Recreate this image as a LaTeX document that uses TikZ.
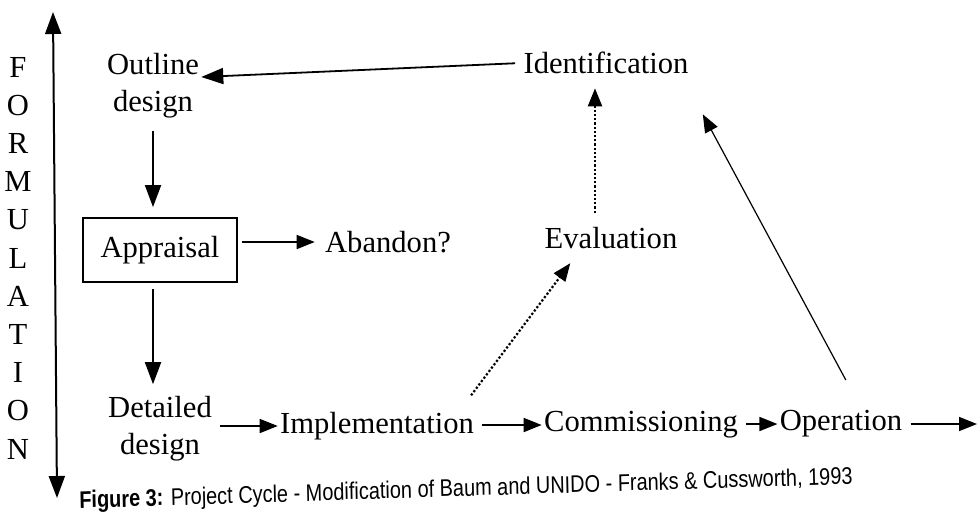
\documentclass[tikz,border=0pt]{standalone}
\usepackage{fontspec}
\setmainfont{Liberation Serif}
\newfontfamily\capfont{Liberation Sans}
\usetikzlibrary{arrows.meta}

\begin{document}
\begin{tikzpicture}[x=0.5pt,y=-0.5pt,
  stage/.style={font=\fontsize{15.3}{18.5}\selectfont,inner sep=1pt,align=center},
  arr/.style={line width=0.8pt,-{Triangle[length=9pt,width=7pt]}},
  bigarr/.style={line width=0.9pt,-{Triangle[length=11pt,width=8pt]}},
  dotarr/.style={line width=1.1pt,densely dotted,-{Triangle[length=9pt,width=7pt]}}]
  \useasboundingbox (0,0) rectangle (977,515);

  % the formulation axis
  \foreach \l [count=\i] in {F,O,R,M,U,L,A,T,I,O,N}
    \node[stage] (f\i) at (18,{67+38.2*(\i-1)}) {\l};
  \coordinate (axtop) at (53,12);
  \coordinate (axbot) at (57,498);
  \draw[line width=1pt,{Triangle[length=11pt,width=8pt]}-{Triangle[length=11pt,width=8pt]}] (axtop) -- (axbot);

  \node[stage] (outline) at (153,86) {Outline\\design};
  \node[stage,draw,line width=0.9pt,minimum width=77pt,minimum height=32pt] (appraisal) at (160,250) {Appraisal};
  \node[stage] (abandon) at (388,242) {Abandon?};
  \node[stage] (ident) at (606,63) {Identification};
  \node[stage] (eval) at (611,238) {Evaluation};
  \node[stage] (detailed) at (160,429) {Detailed\\design};
  \node[stage] (impl) at (377,426) {Implementation};
  \node[stage] (commis) at (641,425) {Commissioning};
  \node[stage] (oper) at (841,424) {Operation};
  \coordinate (out) at (977,424);

  \node[font=\capfont\fontsize{12}{14}\selectfont,xscale=0.83,rotate=1.5] (caption) at (466,490)
    {\textbf{Figure 3:} Project Cycle - Modification of Baum and UNIDO - Franks \& Cussworth, 1993};

  % cycle
  \draw[bigarr,shorten <=3pt] (ident.west) -- ([yshift=4.5pt]outline.east);
  \draw[bigarr,shorten <=5pt,shorten >=5pt] (outline.south) -- (outline.south |- appraisal.north);
  \draw[arr,shorten <=2pt,shorten >=4pt] (appraisal.east |- abandon.west) -- (abandon.west);
  \draw[bigarr,shorten <=3pt,shorten >=5pt] (appraisal.south -| outline.south) -- (detailed.north -| outline.south);
  \draw[arr,shorten <=3pt] (detailed.east |- impl.west) -- (impl.west);
  \draw[arr,shorten <=3pt] (impl.east |- commis.west) -- (commis.west);
  \draw[arr,shorten <=3pt] (commis.east |- oper.west) -- (oper.west);
  \draw[arr,shorten <=3pt] (oper.east) -- (out);
  \draw[dotarr,shorten <=9pt] ([xshift=-8pt]impl.north east) -- ([xshift=14pt,yshift=-6pt]eval.south west);
  \draw[dotarr,shorten <=6pt,shorten >=6pt] ([xshift=-8pt]eval.north) -- ([xshift=-8pt]eval.north |- ident.south);
  \draw[line width=0.6pt,-{Triangle[length=9pt,width=7pt]},shorten <=16pt] ([xshift=10pt]oper.north) -- ([xshift=6pt,yshift=-19pt]ident.south east);
\end{tikzpicture}
\end{document}
